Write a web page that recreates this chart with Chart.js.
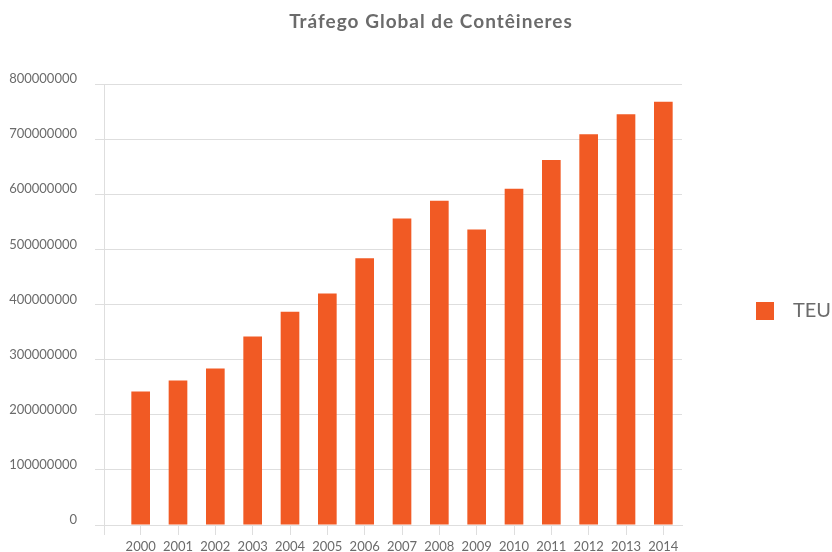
<!DOCTYPE html>
<html>
<head>
<meta charset="utf-8">
<script src="https://cdn.jsdelivr.net/npm/chart.js@4"></script>
<style>
    body { margin: 0; background: #fff; }
    #wrap { width: 832px; height: 552px; }
</style>
</head>
<body>
<div id="wrap"><canvas id="teuChart" width="832" height="552"></canvas></div>
<script>
// --- Data ---
const years = ['2000', '2001', '2002', '2003', '2004', '2005', '2006', '2007',
               '2008', '2009', '2010', '2011', '2012', '2013', '2014'];
const teu = [242000000, 262000000, 284000000, 342000000, 387000000, 420000000, 484000000,
             556000000, 588000000, 536000000, 610000000, 662000000, 709000000, 745000000, 768000000];
const yTicks = [0, 100000000, 200000000, 300000000, 400000000, 500000000, 600000000, 700000000, 800000000];

const chartTitle = 'Tráfego Global de Contêineres';
const seriesName = 'TEU';
const barColor = '#f15a24';
const gridColor = '#dedede';
const textColor = '#6b6b6b';

// axis line sits a bit left of the first category, like the original
const axisGap = 18;

// title, axis line and legend drawn by hand so they sit where the original has them
const decorations = {
    id: 'decorations',
    beforeDatasetsDraw(chart) {
        const c = chart.ctx;
        const area = chart.chartArea;
        const x = area.left - axisGap + 0.5;
        c.save();
        c.strokeStyle = gridColor;
        c.lineWidth = 1;
        c.beginPath();
        c.moveTo(x, area.top);
        c.lineTo(x, area.bottom + 10);
        c.stroke();
        c.restore();
    },
    afterDraw(chart) {
        const c = chart.ctx;
        c.save();
        c.fillStyle = textColor;
        c.font = 'bold 19px Lato';
        c.letterSpacing = '1px';
        c.textAlign = 'center';
        c.textBaseline = 'middle';
        c.fillText(chartTitle, 431, 22);
        c.letterSpacing = '0px';

        const ds = chart.data.datasets[0];
        c.fillStyle = ds.backgroundColor;
        c.fillRect(756, 302, 18, 18);
        c.fillStyle = textColor;
        c.font = '20px Lato';
        c.textAlign = 'left';
        c.fillText(ds.label, 793, 311);
        c.restore();
    }
};

new Chart(document.getElementById('teuChart'), {
    type: 'bar',
    data: {
        labels: years,
        datasets: [{
            label: seriesName,
            data: teu,
            backgroundColor: barColor,
            categoryPercentage: 1,
            barPercentage: 0.5
        }]
    },
    options: {
        responsive: false,
        animation: false,
        layout: { padding: { top: 84, right: 150, left: 0, bottom: 0 } },
        plugins: {
            legend: { display: false },
            title: { display: false },
            tooltip: { enabled: false }
        },
        scales: {
            x: {
                afterFit: s => { s.height = 27; },
                grid: { offset: false, drawOnChartArea: false, color: gridColor, tickLength: 10 },
                border: { color: gridColor },
                ticks: { color: textColor, font: { family: 'Lato', size: 13 }, padding: 4, maxRotation: 0, autoSkip: false }
            },
            y: {
                min: 0,
                max: 800000000,
                afterFit: s => { s.width = 104 + axisGap; },
                afterBuildTicks: s => { s.ticks = yTicks.map(v => ({ value: v })); },
                grid: { color: gridColor, tickLength: 9 + axisGap },
                border: { display: false },
                ticks: {
                    color: textColor,
                    font: { family: 'Lato', size: 13 },
                    padding: 18,
                    labelOffset: -5,
                    callback: v => String(v)
                }
            }
        }
    },
    plugins: [decorations]
});
</script>
</body>
</html>
